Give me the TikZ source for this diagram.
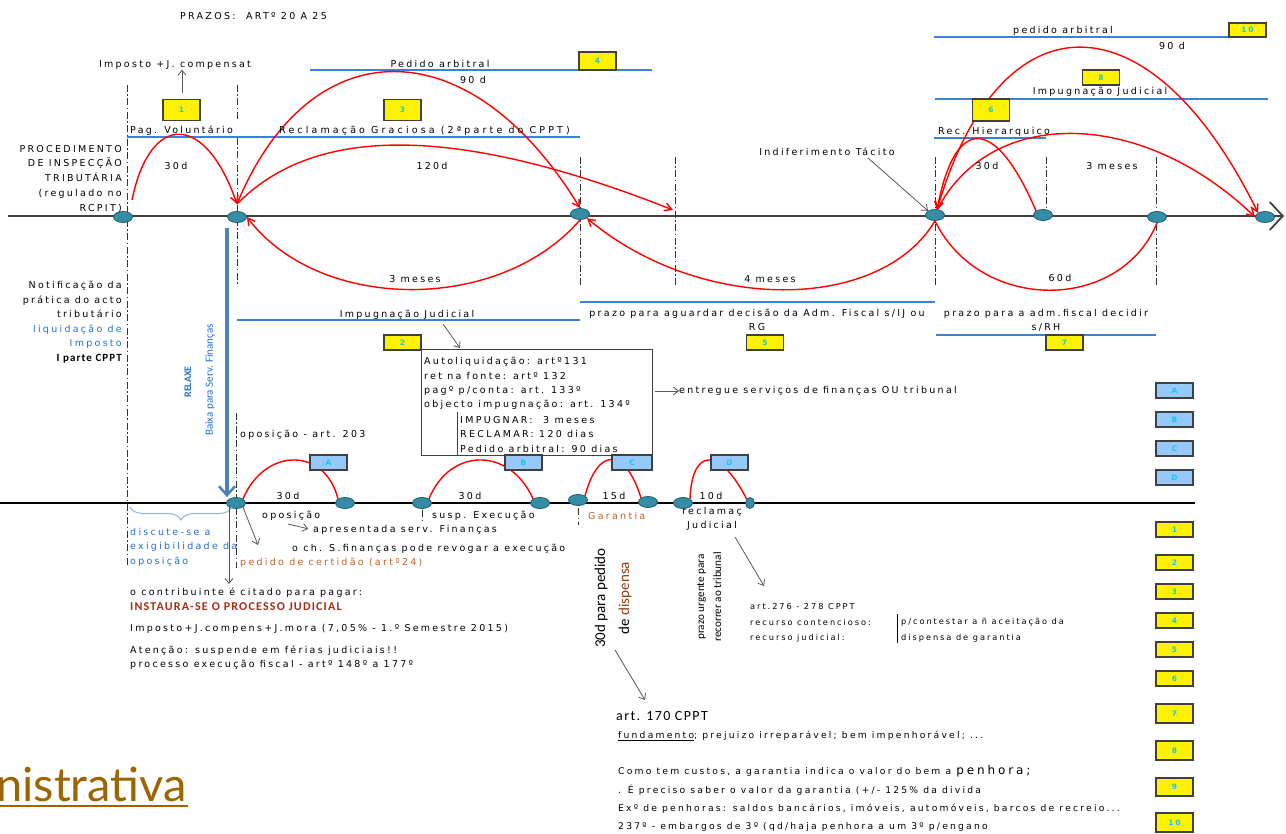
\documentclass[tikz,border=0pt]{standalone}
\usepackage{fontspec}
\setmainfont[LetterSpace=24]{DejaVu Sans}
\newfontfamily\carl{Carlito}
\newfontfamily\carlsp[LetterSpace=10]{Carlito}
\newfontfamily\latfont{Lato}
\usetikzlibrary{arrows.meta,shapes.geometric,decorations.pathreplacing}
\definecolor{lineblue}{RGB}{58,130,215}
\definecolor{tblue}{RGB}{35,110,215}
\definecolor{tealn}{RGB}{52,140,165}
\definecolor{tealdark}{RGB}{30,95,115}
\definecolor{boxcyan}{RGB}{20,200,235}
\definecolor{lightblue}{RGB}{150,200,250}
\definecolor{brownt}{RGB}{195,95,35}
\definecolor{darkredt}{RGB}{165,45,20}
\definecolor{dispc}{RGB}{150,60,20}
\definecolor{adm}{RGB}{156,101,0}
\definecolor{steel}{RGB}{79,129,189}
\definecolor{bracec}{RGB}{140,180,230}
\tikzset{
 txt/.style={inner sep=0pt, font=\fontsize{9.5}{14}\selectfont},
 smtxt/.style={inner sep=0pt, font=\fontsize{9.2}{14}\selectfont},
 artxt/.style={inner sep=0pt, font=\fontsize{8.2}{14}\selectfont},
 ybox/.style={draw=black!75, fill=yellow, line width=1.1pt, inner sep=0pt, minimum width=37pt, minimum height=15pt, text=boxcyan, font=\fontsize{7.5}{8}\selectfont\bfseries},
 bbox/.style={ybox, fill=lightblue},
 tnode/.style={ellipse, fill=tealn, draw=tealdark, line width=0.8pt, minimum width=19pt, minimum height=11pt, inner sep=0pt},
 ddash/.style={draw=black!80, line width=1pt, dash pattern=on 7pt off 2.5pt on 1.5pt off 2.5pt},
 bline/.style={draw=lineblue, line width=1.3pt},
 rc/.style={draw=red, line width=1.4pt},
 rca/.style={rc, -{Straight Barb[length=7pt,width=8pt]}},
 garr/.style={draw=black!65, line width=0.8pt, -{Straight Barb[length=5pt,width=8pt]}},
}
\begin{document}
\begin{tikzpicture}[x=1pt,y=-1pt]
\useasboundingbox (0,0) rectangle (1286,834);
\fill[white] (0,0) rectangle (1286,834);

% dash-dot verticals
\draw[ddash] (127,85) -- (127,567);
\draw[ddash] (237,85) -- (237,120);
\draw[ddash] (237,138) -- (237,285);
\draw[ddash] (236,413) -- (236,568);
\draw[ddash] (580,157) -- (580,285);
\draw[ddash] (675,157) -- (675,285);
\draw[ddash] (935,157) -- (935,285);
\draw[ddash] (1046,157) -- (1046,210);
\draw[ddash] (1156,157) -- (1156,285);
\draw[ddash] (422,510) -- (422,522);
\draw[ddash] (578,508) -- (578,525);

% blue lines
\draw[bline] (310,70) -- (652,70);
\draw[bline] (127,137) -- (580,137);
\draw[bline] (934,37) -- (1266,37);
\draw[bline] (935,99) -- (1268,99);
\draw[bline] (934,138) -- (1046,138);
\draw[bline] (237,320) -- (580,320);
\draw[bline] (580,302) -- (935,302);
\draw[bline] (936,335) -- (1156,335);

% top timeline
\coordinate (tl0) at (8,216);
\coordinate (tl1) at (1284,216);
\draw[draw=black!75, line width=1.2pt, -{Straight Barb[length=13pt,width=28pt,line width=1.8pt]}] (tl0) -- (tl1);
\node[tnode] (t1) at (123,217) {};
\node[tnode] (t2) at (237,217) {};
\node[tnode] (t3) at (580,214) {};
\node[tnode] (t4) at (935,215) {};
\node[tnode] (t5) at (1043,215) {};
\node[tnode] (t6) at (1157,217) {};
\node[tnode] (t7) at (1265,217) {};
\coordinate (t2u) at (237,204);
\coordinate (t4u) at (937,210);
\coordinate (c1s) at (132,200);
\coordinate (d675) at (673,210);

% red curves top
\draw[rca] (c1s) .. controls (150,112) and (205,112) .. (t2u);
\draw[rca] (t2u) .. controls (310,27) and (470,27) .. (t3.north);
\draw[rca] (t2u) .. controls (300,140) and (420,110) .. (d675);
\draw[rca] (t3.south) .. controls (500,313) and (320,313) .. (t2.east);
\draw[rca] (t4.south) .. controls (880,313) and (700,313) .. (t3.south east);
\draw[rc] (t4.south) .. controls (980,313) and (1120,313) .. (t6.south);
\draw[rc, {Straight Barb[length=7pt,width=8pt]}-] (t4u) .. controls (955,115) and (995,115) .. (t5.north west);
\draw[rc, {Straight Barb[length=7pt,width=8pt]}-{Straight Barb[length=7pt,width=8pt]}] (t4u) .. controls (1000,-7) and (1150,-7) .. (t7.north west);
\draw[rca] (t4u) .. controls (990,107) and (1140,107) .. (t7.west);

% top texts
\node[txt, anchor=west] (prz) at (180,16) {PRAZOS:\ \ ARTº 20 A 25};
\node[txt] (imp) at (175,65) {Imposto +J. compensat};
\node[ybox, minimum height=21pt] (y1a) at (181.5,110) {1};
\node[ybox, minimum height=21pt] (y3a) at (402.5,110) {3};
\node[ybox, minimum height=18pt] (y4a) at (597.5,61) {4};
\coordinate (ua) at (182,93);
\draw[garr] (ua) -- (ua |- imp.south);
\node[txt] (pa1) at (440,64) {Pedido arbitral};
\node[txt] (d90a) at (473,80) {90 d};
\node[txt, anchor=west] (pv) at (130,131) {Pag. Voluntário};
\node[txt, anchor=west] (rg) at (279,131) {\addfontfeature{LetterSpace=33}Reclamação Graciosa (2ªparte do CPPT)};
\node[txt] (d30a) at (176,166) {30d};
\node[txt] (d120) at (432,166) {120d};
\node[txt, anchor=north east, align=right, font=\fontsize{9.5}{14.7}\selectfont] (proc) at (122,145) {PROCEDIMENTO\\DE INSPECÇÃO\\TRIBUTÁRIA\\(regulado no\\RCPIT)};

\node[ybox, minimum height=14pt] (y10a) at (1247.5,30) {10};
\node[txt] (pa2) at (1063,31) {pedido arbitral};
\node[txt] (d90b) at (1172,46) {90 d};
\node[ybox] (y8a) at (1101,77.5) {8};
\node[txt] (ij2) at (1100,92) {Impugnação Judicial};
\node[ybox, minimum height=22pt] (y6a) at (991,110) {6};
\node[txt, anchor=west] (rh) at (938,132) {Rec. Hierarquico};
\node[txt] (d30b) at (987,166) {30d};
\node[txt] (m3b) at (1112,166) {3 meses};
\node[txt] (indif) at (827,152) {Indiferimento Tácito};
\coordinate (ia) at (868,158);
\draw[garr] (ia) -- (t4.north west);

% middle texts
\node[txt] (m3a) at (415,279) {3 meses};
\node[txt] (m4) at (770,279) {4 meses};
\node[txt] (d60) at (1060,278) {60d};
\node[txt] (ij1) at (407,315) {Impugnação Judicial};
\node[txt, align=center] (pz1) at (757,320) {prazo para aguardar decisão da Adm. Fiscal s/IJ ou\\RG};
\node[txt, align=center] (pz2) at (1046,320) {prazo para a adm.fiscal decidir\\s/RH};
\node[ybox] (y2a) at (402.5,342.5) {2};
\node[ybox] (y5a) at (765,342.5) {5};
\node[ybox] (y7a) at (1064.5,342.5) {7};

\node[draw=black!75, line width=1pt, inner sep=0pt, minimum width=231pt, minimum height=105pt] (frame) at (536.5,402.5) {};
\node[txt, anchor=west] (f1) at (424,362) {Autoliquidação: artº131};
\node[txt, anchor=west] (f2) at (424,376) {ret na fonte: artº 132};
\node[txt, anchor=west] (f3) at (424,391) {pagº p/conta: art. 133º};
\node[txt, anchor=west] (f4) at (424,405) {objecto impugnação: art. 134º};
\draw[line width=1pt, black!75] (457,412) -- (457,455);
\node[txt, anchor=west] (f5) at (460,420) {IMPUGNAR:\ \ 3 meses};
\node[txt, anchor=west] (f6) at (460,434) {RECLAMAR: 120 dias};
\node[txt, anchor=west] (f7) at (460,449) {Pedido arbitral: 90 dias};
\coordinate (ija) at (443,324);
\coordinate (ijb) at (460,348);
\draw[garr] (ija) -- (ijb);
\node[txt, anchor=west] (ent) at (679,391) {entregue serviços de finanças OU tribunal};
\coordinate (ea) at (655,391);
\draw[garr] (ea) -- (ent.west);

\node[txt, anchor=north east, align=right, font=\fontsize{9.5}{14.6}\selectfont] (notif) at (122,281) {Notificação da\\prática do acto\\tributário\\\textcolor{tblue}{liquidação de}\\\textcolor{tblue}{Imposto}\\{\fontsize{11}{12}\carlsp\bfseries I parte CPPT}};
\node[font=\fontsize{10}{10}\carl\bfseries, text=tblue, rotate=90, inner sep=0pt] (relaxe) at (188,382) {RELAXE};
\node[font=\fontsize{11}{11}\carl, text=tblue, rotate=90, inner sep=0pt] (baixa) at (210,380) {Baixa para Serv. Finanças};
\node[txt, anchor=west] (opart) at (240,435) {oposição - art. 203};

% bottom timeline
\coordinate (bl0) at (0,503);
\coordinate (bl1) at (1195,503);
\draw[line width=2.5pt] (bl0) -- (bl1);
\node[tnode] (b1) at (236,503) {};
\node[tnode] (b2) at (345,503) {};
\node[tnode] (b3) at (422,503) {};
\node[tnode] (b4) at (540,503) {};
\node[tnode] (b5) at (578,500) {};
\node[tnode] (b6) at (648,502) {};
\node[tnode] (b7) at (683,503) {};
\node[tnode, minimum width=9pt] (b8) at (750,503) {};

\draw[rc] (b1.north east) .. controls (265,447) and (325,447) .. (b2.north west);
\draw[rc] (b3.north east) .. controls (450,447) and (510,447) .. (b4.north west);
\draw[rc] (b5.north east) .. controls (598,447) and (625,447) .. (b6.north west);
\draw[rc] (b7.north east) .. controls (692,447) and (720,447) .. (b8.north west);

\coordinate (ba0) at (227,228);
\draw[draw=steel, line width=3.5pt, -{Straight Barb[length=9pt,width=16pt,line width=2.5pt]}] (ba0) -- (ba0 |- b1.north);

\node[bbox] (ba) at (328.5,462.5) {A};
\node[bbox] (bb) at (523.5,462.5) {B};
\node[bbox, minimum width=40pt] (bc) at (632,462.5) {C};
\node[bbox] (bd) at (729.5,462.5) {D};

\node[txt] (h1) at (288,496) {30d};
\node[txt] (h2) at (470,496) {30d};
\node[txt] (h3) at (614,496) {15d};
\node[txt] (h4) at (711,496) {10d};
\node[txt, anchor=west] (opo) at (262,516) {oposição};
\node[txt, anchor=west] (susp) at (432,516) {susp. Execução};
\node[txt, anchor=west, text=brownt] (gar) at (588,516) {Garantia};
\node[txt, align=center] (recj) at (712,519) {reclamaç\\Judicial};

\draw[decorate, decoration={brace, amplitude=13pt}, draw=bracec, line width=1pt] (232,507) -- (130,507);
\node[txt, anchor=north west, align=left, text=tblue, font=\fontsize{9.5}{14.5}\selectfont] (disc) at (130,528) {discute-se a\\exigibilidade da\\oposição};

\node[txt, anchor=west] (apr) at (313,530) {apresentada serv. Finanças};
\coordinate (aa) at (288,524);
\draw[garr, shorten >=5pt] (aa) -- (apr.west);
\node[txt, anchor=west] (och) at (292,549) {o ch. S.finanças pode revogar a execução};
\coordinate (pc) at (258,545);
\draw[garr] (b1.south east) -- (pc);
\node[txt, anchor=west, text=brownt] (ped) at (240,563) {pedido de certidão (artº24)};
\coordinate (cd) at (229,584);
\draw[garr] (b1.south west) -- (b1.south west |- cd);

\node[txt, anchor=west] (cont) at (130,593) {o contribuinte é citado para pagar:};
\node[anchor=west, inner sep=0pt, font=\fontsize{12}{12}\carlsp\bfseries, text=darkredt] (inst) at (130,607) {INSTAURA-SE O PROCESSO JUDICIAL};
\node[txt, anchor=west] (impj) at (130,629) {Imposto+J.compens+J.mora (7,05\% - 1.º Semestre 2015)};
\node[txt, anchor=west] (aten) at (130,651) {Atenção: suspende em férias judiciais!!};
\node[txt, anchor=west] (proc2) at (130,665) {processo execução fiscal - artº 148º a 177º};

\node[rotate=90, align=center, inner sep=0pt, font=\fontsize{15}{24}\carl] (dp) at (613,598) {30d para pedido\\de \textcolor{dispc}{dispensa}};
\node[rotate=90, align=center, inner sep=0pt, font=\fontsize{11.2}{17}\carl] (pu) at (709,597) {prazo urgente para\\recorrer ao tribunal};
\coordinate (ra) at (735,537);
\coordinate (rb) at (764,586);
\draw[garr] (ra) -- (rb);
\node[artxt, anchor=west] (art276) at (750,607) {art.276 - 278 CPPT};
\node[artxt, anchor=west] (rcont) at (750,622) {recurso contencioso:};
\node[artxt, anchor=west] (rjud) at (750,638) {recurso judicial:};
\draw[line width=1pt] (897,614) -- (897,643);
\node[artxt, anchor=west] (pcont) at (901,622) {p/contestar a ñ aceitação da};
\node[artxt, anchor=west] (dgar) at (901,638) {dispensa de garantia};

\coordinate (da) at (615,650);
\coordinate (db) at (645,700);
\draw[garr] (da) -- (db);
\node[anchor=west, inner sep=0pt, font=\fontsize{14}{14}\carlsp] (a170) at (616,716) {art. 170 CPPT};
\node[smtxt, anchor=west] (fund) at (618,736) {\underline{fundamento}; prejuizo irreparável; bem impenhorável; ...};
\node[smtxt, anchor=west] (como) at (618,771) {Como tem custos, a garantia indica o valor do bem a {\fontsize{12}{12}\selectfont penhora;}};
\node[smtxt, anchor=west] (prec) at (618,790) {. É preciso saber o valor da garantia (+/- 125\% da divida};
\node[smtxt, anchor=west] (exp) at (618,809) {Exº de penhoras: saldos bancários, imóveis, automóveis, barcos de recreio...};
\node[smtxt, anchor=west] (emb) at (618,827) {237º - embargos de 3º (qd/haja penhora a um 3º p/engano};

% right column boxes
\node[bbox] (rA) at (1174.5,390.5) {A};
\node[bbox] (rB) at (1174.5,419.5) {B};
\node[bbox] (rC) at (1174.5,448.5) {C};
\node[bbox] (rD) at (1174.5,477.5) {D};
\node[ybox] (r1) at (1174.5,529.5) {1};
\node[ybox] (r2) at (1174.5,562.5) {2};
\node[ybox] (r3) at (1174.5,591.5) {3};
\node[ybox] (r4) at (1174.5,620.5) {4};
\node[ybox] (r5) at (1174.5,649.5) {5};
\node[ybox] (r6) at (1174.5,678.5) {6};
\node[ybox, minimum height=19pt] (r7) at (1174.5,713.5) {7};
\node[ybox, minimum height=19pt] (r8) at (1174.5,750.5) {8};
\node[ybox, minimum height=18pt] (r9) at (1174.5,787) {9};
\node[ybox, minimum height=19pt] (r10) at (1174.5,822.5) {10};

% title fragment
\node[anchor=base east, inner sep=0pt, font=\fontsize{47}{47}\latfont, text=adm] (nis) at (187,801) {nistrativa};
\draw[adm, line width=2pt] (0,806) -- (188,806);
\end{tikzpicture}
\end{document}
